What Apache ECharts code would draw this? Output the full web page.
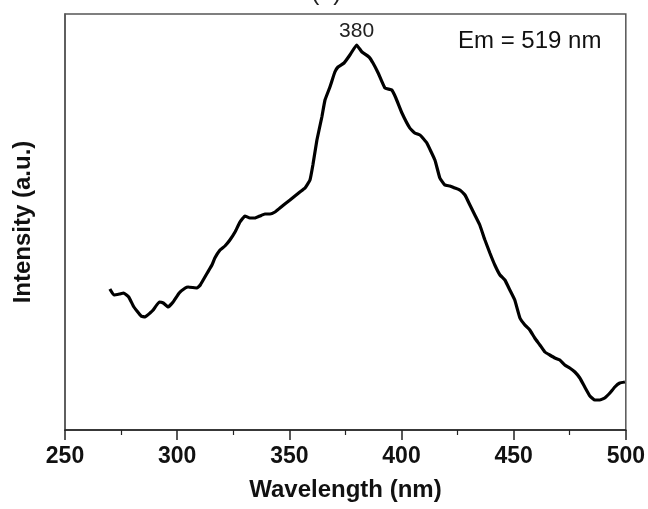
<!DOCTYPE html>
<html>
<head>
<meta charset="utf-8">
<script src="https://cdn.jsdelivr.net/npm/echarts@6/dist/echarts.min.js"></script>
<style>
  html, body { margin: 0; padding: 0; background: #fff; }
  #chart { width: 648px; height: 509px; }
</style>
</head>
<body>
<div id="chart"></div>
<script>
// Excitation spectrum, emission monitored at 519 nm
const wavelength = [
  270.0, 271.8, 274.3, 276.1, 278.4, 280.7, 283.9, 285.7, 287.9, 289.3,
  292.0, 293.8, 296.0, 298.2, 300.9, 303.6, 304.9, 308.9, 310.3, 313.4,
  315.5, 316.8, 319.1, 321.3, 323.5, 325.8, 328.0, 330.2, 332.4, 334.7,
  336.9, 339.1, 341.4, 343.6, 345.8, 348.0, 350.3, 352.5, 354.7, 357.0,
  359.2, 360.5, 362.3, 364.5, 365.9, 368.1, 370.3, 371.7, 374.4, 377.0,
  380.0, 382.4, 385.5, 387.3, 389.6, 392.6, 395.7, 397.5, 400.2, 403.7,
  405.9, 408.2, 409.5, 411.3, 414.9, 417.1, 419.3, 421.6, 423.8, 426.0,
  428.3, 430.5, 432.7, 434.9, 437.2, 439.4, 441.6, 443.9, 446.1, 448.3,
  450.5, 452.8, 455.0, 457.2, 459.4, 461.7, 463.9, 466.1, 468.4, 470.6,
  472.8, 475.0, 477.3, 479.5, 481.7, 484.0, 486.2, 488.4, 490.6, 492.9,
  495.1, 497.3, 499.6
];
const intensity = [
  141, 135, 136, 137, 133, 123, 114, 113, 117, 120,
  128, 127, 123, 128, 137, 142, 143, 142, 145, 157,
  165, 172, 180, 184, 190, 198, 208, 214, 212, 212,
  214, 216, 216, 218, 222, 226, 230, 234, 238, 242,
  250, 265, 290, 313, 330, 343, 358, 363, 367, 375,
  385, 378, 373, 367, 357, 342, 340, 332, 317, 302,
  297, 295, 292, 287, 270, 252, 245, 244, 242, 240,
  235, 225, 215, 205, 190, 177, 165, 155, 150, 140,
  130, 112, 105, 100, 92, 85, 78, 75, 72, 70,
  65, 62, 58, 52, 43, 34, 30, 30, 32, 37,
  43, 47, 48
];

// Axis ticks and annotations
const xTicks = [250, 300, 350, 400, 450, 500];
const peakLabel = '380';
const emissionNote = 'Em = 519 nm';
const panelTag = '(a)';

const data = wavelength.map((w, i) => [w, intensity[i]]);

const chart = echarts.init(document.getElementById('chart'), null, { renderer: 'canvas' });
const sans = 'Liberation Sans, Arial, sans-serif';

chart.setOption({
  animation: false,
  backgroundColor: '#fff',
  grid: {
    left: 65, right: 22, top: 14, bottom: 79,
    show: true, borderColor: '#555', borderWidth: 1.5, backgroundColor: 'transparent'
  },
  graphic: [
    {
      type: 'text', left: 311, top: -19,
      style: { text: panelTag, font: '25px ' + sans, fill: '#222' }
    },
    {
      type: 'text', left: 458, top: 29,
      style: { text: emissionNote, font: '24px ' + sans, fill: '#111' }
    }
  ],
  xAxis: {
    type: 'value',
    min: xTicks[0], max: xTicks[xTicks.length - 1], interval: 50,
    axisLine: { show: true, onZero: false, lineStyle: { color: '#222', width: 1.5 } },
    axisTick: { show: true, inside: false, length: 10, lineStyle: { color: '#222', width: 1.5 } },
    minorTick: { show: true, splitNumber: 2, length: 5, lineStyle: { color: '#222', width: 1.2 } },
    splitLine: { show: false },
    axisLabel: {
      margin: 15, color: '#111', fontFamily: sans, fontWeight: 'bold', fontSize: 23
    },
    name: 'Wavelength (nm)',
    nameLocation: 'middle', nameGap: 48,
    nameTextStyle: { color: '#111', fontFamily: sans, fontWeight: 'bold', fontSize: 24 }
  },
  yAxis: {
    type: 'value', min: 0, max: 416,
    axisLine: { show: true, lineStyle: { color: '#555', width: 1.5 } },
    axisTick: { show: false },
    axisLabel: { show: false },
    splitLine: { show: false },
    name: 'Intensity (a.u.)',
    nameLocation: 'middle', nameGap: 30, nameRotate: 90,
    nameTextStyle: { color: '#111', fontFamily: sans, fontWeight: 'bold', fontSize: 24 }
  },
  series: [
    {
      type: 'line',
      data: data,
      showSymbol: false,
      smooth: 0.1,
      lineStyle: { color: '#000', width: 3.2 },
      markPoint: {
        symbol: 'circle', symbolSize: 0,
        data: [{ coord: [380, 385], value: peakLabel }],
        label: {
          show: true, position: 'top', distance: 3, formatter: peakLabel,
          color: '#222', fontFamily: sans, fontSize: 21
        }
      }
    }
  ]
});
</script>
</body>
</html>
